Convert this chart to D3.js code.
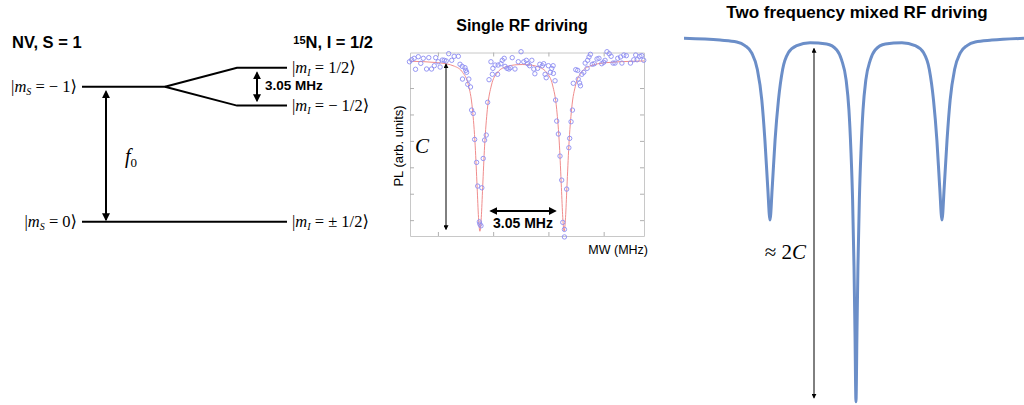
<!DOCTYPE html>
<html>
<head>
<meta charset="utf-8">
<script src="https://cdn.jsdelivr.net/npm/d3@7"></script>
<style>
  body { margin: 0; background: #fff; }
  svg { display: block; }
  text { font-family: "Liberation Sans", Arial, sans-serif; }
</style>
</head>
<body>
<svg id="chart" width="1024" height="405"></svg>
<script>

// energy levels (schematic, units of f0)
var levelEnergy = [0, 1]
var hyperfineEnergy = [1.14, 0.86]

// single RF driving: measured ODMR points
var singleMW = [2864.97, 2865.05, 2865.14, 2865.29, 2865.19, 2865.38, 2865.47, 2865.59, 2865.67, 2865.77,
    2865.87, 2865.92, 2866.01, 2866.08, 2866.16, 2866.23, 2866.30, 2866.39, 2866.50, 2866.59,
    2866.74, 2866.80, 2866.88, 2866.98, 2867.01, 2867.04, 2866.89, 2867.12, 2867.08, 2867.18,
    2867.22, 2867.28, 2867.33, 2867.40, 2867.44, 2867.50, 2867.52, 2867.56, 2867.59, 2867.64,
    2867.69, 2867.75, 2867.80, 2867.92, 2867.99, 2868.07, 2867.97, 2868.16, 2867.85, 2868.18,
    2868.28, 2868.33, 2868.40, 2868.43, 2868.50, 2868.57, 2868.62, 2868.69, 2868.79, 2868.91,
    2869.01, 2869.11, 2869.20, 2869.25, 2869.32, 2869.40, 2869.47, 2869.51, 2869.61, 2869.69,
    2869.78, 2869.83, 2869.88, 2869.92, 2870.00, 2870.07, 2870.12, 2870.17, 2870.18, 2870.24,
    2870.26, 2870.30, 2870.36, 2870.42, 2870.48, 2870.52, 2870.58, 2870.58, 2870.66, 2870.74,
    2870.77, 2870.82, 2870.87, 2870.90, 2870.99, 2871.06, 2871.13, 2871.16, 2871.08, 2871.21,
    2871.28, 2871.33, 2871.40, 2871.42, 2871.47, 2871.52, 2871.59, 2871.66, 2871.76, 2871.83,
    2871.93, 2872.00, 2872.05, 2872.12, 2872.20, 2872.27, 2872.34, 2872.41, 2872.51, 2872.61,
    2872.66, 2872.73, 2872.82, 2872.97, 2873.09, 2873.16, 2873.21, 2873.31, 2873.38, 2873.45]
var singlePL = [99.99, 100.14, 100.25, 100.37, 99.42, 99.87, 100.25, 99.44, 100.30, 99.44,
    99.69, 100.30, 99.99, 99.59, 100.12, 100.10, 100.05, 100.60, 100.10, 100.40,
    100.40, 99.80, 99.64, 99.54, 99.34, 99.19, 98.68, 98.68, 98.28, 98.08,
    96.33, 96.08, 94.11, 92.37, 90.58, 87.87, 87.70, 87.57, 90.45, 92.67,
    94.06, 94.44, 96.92, 99.99, 99.49, 99.74, 99.04, 99.04, 98.63, 99.74,
    99.84, 100.10, 100.25, 99.64, 99.49, 99.44, 99.54, 100.30, 99.44, 99.99,
    100.75, 99.99, 100.10, 99.84, 99.69, 100.10, 99.44, 99.08, 99.49, 99.80,
    99.69, 99.84, 99.04, 98.78, 99.69, 99.19, 99.49, 99.69, 99.11, 98.55,
    97.09, 95.50, 94.52, 92.85, 91.03, 87.83, 87.30, 86.73, 90.35, 93.48,
    94.19, 95.45, 96.33, 98.36, 99.39, 99.34, 98.38, 98.17, 98.68, 99.04,
    99.19, 99.89, 99.49, 100.10, 100.35, 100.55, 99.80, 99.84, 100.20, 100.25,
    99.84, 99.95, 100.10, 100.75, 100.60, 100.40, 99.89, 99.89, 100.25, 100.35,
    99.89, 100.50, 100.45, 99.89, 100.14, 100.50, 100.14, 100.40, 100.45, 100.10]

// fitted curve
var fitMW = [2864.99, 2866.00, 2866.60, 2866.90, 2867.10, 2867.25, 2867.35, 2867.42, 2867.47, 2867.52,
    2867.57, 2867.62, 2867.69, 2867.79, 2867.94, 2868.14, 2868.44, 2868.90, 2869.05, 2869.20,
    2869.65, 2869.95, 2870.15, 2870.30, 2870.40, 2870.47, 2870.52, 2870.57, 2870.62, 2870.67,
    2870.74, 2870.84, 2870.99, 2871.19, 2871.49, 2872.09, 2873.10, 2873.46]
var fitPL = [100.03, 99.92, 99.65, 99.17, 98.26, 96.41, 93.62, 90.49, 88.21, 87.16,
    88.19, 90.48, 93.60, 96.39, 98.23, 99.13, 99.59, 99.77, 99.78, 99.77,
    99.59, 99.13, 98.23, 96.39, 93.62, 90.48, 88.19, 87.16, 88.21, 90.49,
    93.62, 96.41, 98.26, 99.17, 99.65, 99.92, 100.03, 100.05]

var mwTicks = [2866, 2868, 2870, 2872]
var plTicks = [88, 90, 92, 94, 96, 98]

// two frequency mixed driving (detuning in MHz, dip in units of C)
var mixDetuning = [-6.10, -4.82, -4.23, -3.94, -3.70, -3.50, -3.34, -3.23, -3.13, -3.05,
    -2.97, -2.87, -2.75, -2.60, -2.40, -2.10, -1.63, -1.04, -0.68, -0.51,
    -0.35, -0.25, -0.18, -0.12, -0.07, -0.035, 0,
    0.035, 0.07, 0.12, 0.18, 0.25, 0.35, 0.51, 0.68, 1.04,
    1.63, 2.10, 2.40, 2.60, 2.75, 2.87, 2.97, 3.05, 3.13, 3.23,
    3.34, 3.50, 3.70, 3.94, 4.23, 4.82, 5.96]
var mixDip = [0, -0.01, -0.02, -0.04, -0.08, -0.17, -0.34, -0.56, -0.82, -1.0,
    -0.82, -0.56, -0.34, -0.17, -0.08, -0.04, -0.024, -0.031, -0.064, -0.119,
    -0.229, -0.394, -0.614, -0.888, -1.255, -1.621, -2.0,
    -1.621, -1.255, -0.888, -0.614, -0.394, -0.229, -0.119, -0.064, -0.031,
    -0.024, -0.04, -0.08, -0.17, -0.34, -0.56, -0.82, -1.0, -0.82, -0.56,
    -0.34, -0.17, -0.08, -0.04, -0.02, -0.01, 0]

var svg = d3.select('#chart')
var defs = svg.append('defs')

function addHead(id, size) {
    defs.append('marker')
        .attr('id', id)
        .attr('viewBox', '0 0 10 10')
        .attr('refX', 8).attr('refY', 5)
        .attr('markerWidth', size).attr('markerHeight', size)
        .attr('orient', 'auto-start-reverse')
        .append('path').attr('d', 'M0,0L10,5L0,10z').attr('fill', '#000')
}
addHead('headBold', 4)
addHead('headThin', 5)

function arrow(g, x1, y1, x2, y2, w, head) {
    g.append('line')
        .attr('x1', x1).attr('y1', y1).attr('x2', x2).attr('y2', y2)
        .attr('stroke', '#000').attr('stroke-width', w)
        .attr('marker-start', 'url(#' + head + ')')
        .attr('marker-end', 'url(#' + head + ')')
}

function ket(g, x, y, sub, rest, anchor) {
    var t = g.append('text')
        .attr('x', x).attr('y', y)
        .attr('text-anchor', anchor)
        .style('font-family', '"Liberation Serif", "DejaVu Serif", serif')
        .style('font-size', '16.5px')
    t.append('tspan').text('|')
    t.append('tspan').style('font-style', 'italic').text('m')
    t.append('tspan').attr('dy', 3).style('font-size', '10px').style('font-style', 'italic').text(sub)
    t.append('tspan').attr('dy', -3).text(rest)
}

// ---------- energy level diagram ----------
var lev = svg.append('g')
var yE = d3.scaleLinear().domain([0, 1]).range([221.7, 86.7])

lev.append('text').attr('x', 12).attr('y', 48)
    .style('font-size', '16.5px').style('font-weight', 'bold')
    .text('NV, S = 1')

var nt = lev.append('text').attr('x', 373).attr('y', 48).attr('text-anchor', 'end')
    .style('font-size', '16.5px').style('font-weight', 'bold')
nt.append('tspan').attr('dy', -4).style('font-size', '11px').text('15')
nt.append('tspan').attr('dy', 4).text('N, I = 1/2')

lev.append('line')
    .attr('x1', 82).attr('x2', 165)
    .attr('y1', yE(levelEnergy[1])).attr('y2', yE(levelEnergy[1]))
    .attr('stroke', '#000').attr('stroke-width', 2)

lev.append('line')
    .attr('x1', 82).attr('x2', 287)
    .attr('y1', yE(levelEnergy[0])).attr('y2', yE(levelEnergy[0]))
    .attr('stroke', '#000').attr('stroke-width', 2)

hyperfineEnergy.forEach(function(e) {
    lev.append('path')
        .attr('d', d3.line()([[165, yE(levelEnergy[1])], [237, yE(e)], [287, yE(e)]]))
        .attr('fill', 'none').attr('stroke', '#000').attr('stroke-width', 2)
})

ket(lev, 77, yE(levelEnergy[1]) + 5, 'S', ' = \u2212 1\u27E9', 'end')
ket(lev, 77, yE(levelEnergy[0]) + 5, 'S', ' = 0\u27E9', 'end')
ket(lev, 292, yE(hyperfineEnergy[0]) + 5, 'I', ' = 1/2\u27E9', 'start')
ket(lev, 292, yE(hyperfineEnergy[1]) + 5, 'I', ' = \u2212 1/2\u27E9', 'start')
ket(lev, 292, yE(levelEnergy[0]) + 5, 'I', ' = \u00B1 1/2\u27E9', 'start')

arrow(lev, 106, yE(levelEnergy[1]) + 5, 106, yE(levelEnergy[0]) - 2, 2, 'headBold')
arrow(lev, 257, yE(hyperfineEnergy[0]) + 5, 257, yE(hyperfineEnergy[1]) - 5, 2, 'headBold')

lev.append('text').attr('x', 265).attr('y', 90)
    .style('font-size', '13.5px').style('font-weight', 'bold')
    .text('3.05 MHz')

var f0 = lev.append('text').attr('x', 125).attr('y', 163)
    .style('font-family', '"Liberation Serif", serif').style('font-size', '20px')
f0.append('tspan').style('font-style', 'italic').text('f')
f0.append('tspan').attr('dy', 4).style('font-size', '13px').text('0')

// ---------- single RF driving ----------
var mid = svg.append('g')
var xS = d3.scaleLinear().domain([2864.99, 2873.46]).range([410, 644])
var yS = d3.scaleLinear().domain([86.8, 100.69]).range([236, 52.5])

mid.append('text').attr('x', 522).attr('y', 31).attr('text-anchor', 'middle')
    .style('font-size', '16px').style('font-weight', 'bold')
    .text('Single RF driving')

var axes = [
    [d3.axisBottom(xS).tickValues(mwTicks), 'translate(0,236)'],
    [d3.axisTop(xS).tickValues(mwTicks), 'translate(0,52.5)'],
    [d3.axisLeft(yS).tickValues(plTicks), 'translate(410,0)'],
    [d3.axisRight(yS).tickValues(plTicks), 'translate(644,0)']
]
axes.forEach(function(a) {
    var ax = mid.append('g').attr('transform', a[1])
        .call(a[0].tickSizeInner(-4).tickSizeOuter(0).tickFormat(''))
    ax.select('.domain').attr('stroke', '#c8c8c8')
    ax.selectAll('.tick line').attr('stroke', '#b0b0b0')
})

mid.append('path')
    .datum(d3.zip(fitMW, fitPL))
    .attr('d', d3.line().x(d => xS(d[0])).y(d => yS(d[1])).curve(d3.curveMonotoneX))
    .attr('fill', 'none').attr('stroke', '#f08c8c').attr('stroke-width', 1)

mid.selectAll('.pt')
    .data(d3.zip(singleMW, singlePL))
    .enter().append('circle')
    .attr('class', 'pt')
    .attr('cx', d => xS(d[0])).attr('cy', d => yS(d[1]))
    .attr('r', 2.2)
    .attr('fill', 'none').attr('stroke', '#8c8cf2').attr('stroke-width', 0.9)

mid.append('text')
    .attr('transform', 'translate(403,146) rotate(-90)')
    .attr('text-anchor', 'middle')
    .style('font-size', '13px')
    .text('PL (arb. units)')

mid.append('text').attr('x', 648).attr('y', 254).attr('text-anchor', 'end')
    .style('font-size', '12.5px')
    .text('MW (MHz)')

mid.append('text').attr('x', 415).attr('y', 153)
    .style('font-family', '"Liberation Serif", serif').style('font-style', 'italic')
    .style('font-size', '21px')
    .text('C')

arrow(mid, 446, yS(fitPL[0]) + 3, 446, yS(fitPL[9]) - 2, 1, 'headThin')
arrow(mid, xS(fitMW[9]) + 11, 211, xS(fitMW[27]) - 9, 211, 2, 'headBold')

mid.append('text').attr('x', 523).attr('y', 228).attr('text-anchor', 'middle')
    .style('font-size', '14px').style('font-weight', 'bold')
    .text('3.05 MHz')

// ---------- two frequency mixed RF driving ----------
var right = svg.append('g')
var xR = d3.scaleLinear().domain([-6.10, 5.96]).range([684, 1024])
var yR = d3.scaleLinear().domain([-2, 0]).range([401.7, 38.3])

right.append('text').attr('x', 857).attr('y', 18).attr('text-anchor', 'middle')
    .style('font-size', '17px').style('font-weight', 'bold')
    .text('Two frequency mixed RF driving')

right.append('path')
    .datum(d3.zip(mixDetuning, mixDip))
    .attr('d', d3.line().x(d => xR(d[0])).y(d => yR(d[1])).curve(d3.curveMonotoneX))
    .attr('fill', 'none').attr('stroke', '#6b8ec8').attr('stroke-width', 3)
    .attr('stroke-linejoin', 'round')

arrow(right, 814, yR(mixDip[16]) + 6, 814, yR(-2) - 4, 1, 'headThin')

var lab = right.append('text').attr('x', 806).attr('y', 259).attr('text-anchor', 'end')
    .style('font-family', '"Liberation Serif", serif').style('font-size', '21px')
lab.append('tspan').text('\u2248 2')
lab.append('tspan').style('font-style', 'italic').text('C')

</script>
</body>
</html>
